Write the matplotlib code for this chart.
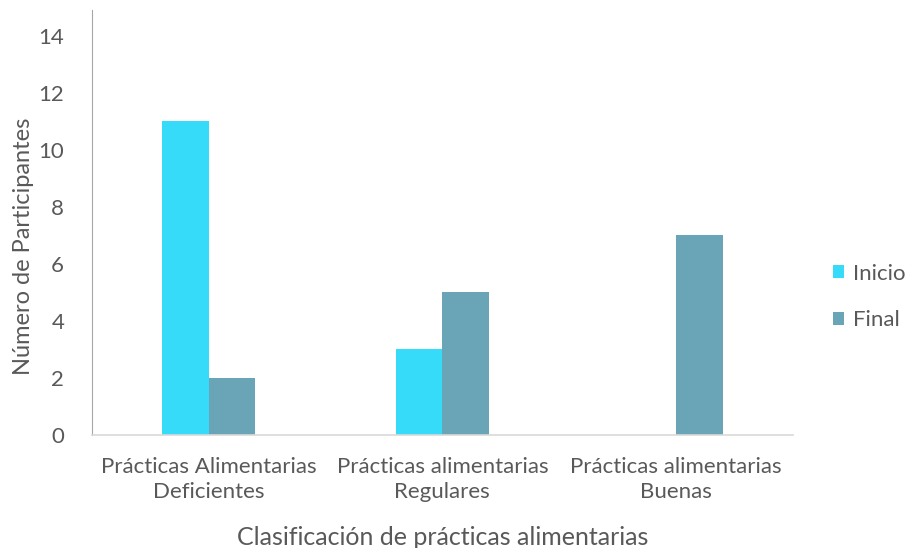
import matplotlib.pyplot as plt
import numpy as np

categorias = ["Prácticas Alimentarias\nDeficientes",
              "Prácticas alimentarias\nRegulares",
              "Prácticas alimentarias\nBuenas"]
inicio = [11, 3, 0]
final = [2, 5, 7]

gris = "#595959"
plt.rcParams['font.family'] = ['Lato', 'DejaVu Sans']

fig = plt.figure(figsize=(9.06, 5.48), dpi=100)
ax = fig.add_axes([0.1015, 0.206, 0.7735, 0.776])

x = np.arange(len(categorias))
w = 0.2
ax.bar(x - w / 2, inicio, w, color="#35DBF8", label="Inicio")
ax.bar(x + w / 2, final, w, color="#69A4B7", label="Final")

ax.set_xlim(-0.5, 2.5)
ax.set_ylim(0, 14.9)
ax.set_yticks(range(0, 15, 2))
ax.set_xticks(x)
ax.set_xticklabels(categorias, fontsize=16, color=gris, linespacing=1.3)
ax.tick_params(axis='y', labelsize=16, labelcolor=gris, length=0, pad=20)
ax.tick_params(axis='x', length=0, pad=16)

for s in ["top", "right"]:
    ax.spines[s].set_visible(False)
ax.spines["left"].set_color("#A6A6A6")
ax.spines["bottom"].set_color("#D9D9D9")
ax.spines["bottom"].set_linewidth(1.2)

fig.text(24 / 906, 1 - 246 / 548, "Número de Participantes", rotation=90,
         fontsize=17, color=gris, ha="center", va="center")
ax.set_xlabel("Clasificación de prácticas alimentarias", fontsize=18, color=gris, labelpad=17)

fig.legend(loc="center left", bbox_to_anchor=(833 / 906, 1 - 297 / 548), frameon=False,
           fontsize=16, labelcolor=gris, handlelength=0.5, handleheight=0.5,
           labelspacing=1.2, handletextpad=0.4, borderpad=0, borderaxespad=0)

fig.savefig("out.png", dpi=100)
